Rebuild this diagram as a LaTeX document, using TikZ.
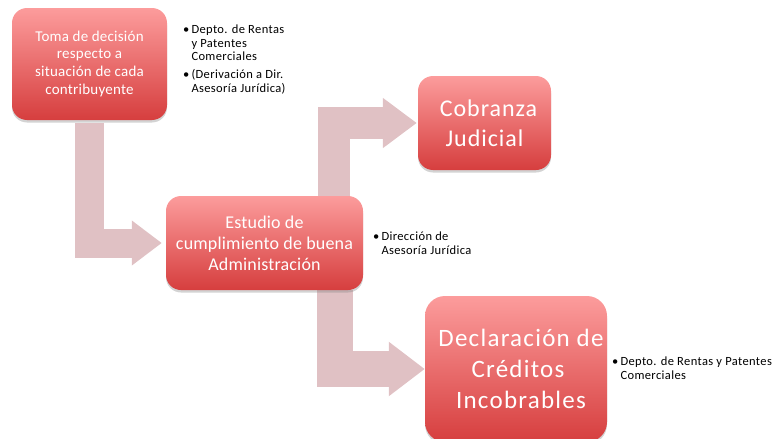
\documentclass[tikz,border=0pt]{standalone}
\usepackage{fontspec}
\setmainfont{Carlito}
\usetikzlibrary{arrows.meta,shadows,calc}
\definecolor{arrowc}{HTML}{E0C1C4}
\definecolor{boxtop}{HTML}{FC9C9C}
\definecolor{boxbot}{HTML}{D63E3E}
\pgfdeclarelayer{bg}
\pgfsetlayers{bg,main}
\tikzset{
  box/.style={rectangle, rounded corners=15pt, top color=boxtop, bottom color=boxbot,
    draw=none, text=white, align=center, inner sep=2pt,
    drop shadow={opacity=0.35, shadow xshift=0pt, shadow yshift=-2.5pt}},
  blockarrow/.style={draw=arrowc, line join=miter, line cap=butt},
  note/.style={anchor=north west, inner sep=0pt, align=left, text=black,
    font=\fontsize{12.5}{14}\selectfont\addfontfeatures{LetterSpace=3}},
}
\begin{document}
\begin{tikzpicture}[x=1pt,y=-1pt]
\useasboundingbox (0,0) rectangle (782,439);
\coordinate (a1x) at (89,0);
\coordinate (a2x) at (333.5,0);
\coordinate (a3x) at (334.5,0);
\node[box, minimum width=155pt, minimum height=112pt, font=\fontsize{15}{18}\selectfont\addfontfeatures{LetterSpace=1.5}] (b1) at (89.5,64)
    {Toma de decisión\\respecto a\\situación de cada\\contribuyente};
\node[box, minimum width=133pt, minimum height=94pt, font=\fontsize{24}{30}\selectfont\addfontfeatures{LetterSpace=4}] (b2) at (484.5,123)
    {\hspace*{8pt}Cobranza\\Judicial};
\node[box, minimum width=197pt, minimum height=94pt, font=\fontsize{18}{21}\selectfont\addfontfeatures{LetterSpace=1}] (b3) at (264.5,243)
    {Estudio de\\cumplimiento de buena\\Administración};
\node[box, rounded corners=20pt, minimum width=182pt, minimum height=146pt, font=\fontsize{25}{31}\selectfont\addfontfeatures{LetterSpace=5}] (b4) at (516,369)
    {\hspace*{10pt}Declaración de\\\hspace*{4pt}Créditos\\\hspace*{10pt}Incobrables};
\begin{pgfonlayer}{bg}
\draw[blockarrow, line width=29pt, -{Triangle[width=43pt,length=30pt]}, shorten <=3pt, shorten >=4pt]
  (b1.south -| a1x) |- (b3.west);
\draw[blockarrow, line width=32pt, -{Triangle[width=48pt,length=34pt]}, shorten >=1pt]
  (b3.north -| a2x) |- (b2.west);
\draw[blockarrow, line width=36pt, -{Triangle[width=52pt,length=36pt]}]
  (b3.south -| a3x) |- (b4.west);
\end{pgfonlayer}
\node[note] (n1) at (183,23) {•\,\begin{tabular}[t]{@{}l@{}}Depto. de Rentas\\y Patentes\\Comerciales\end{tabular}};
\node[note] (n2) at (183,68) {•\,\begin{tabular}[t]{@{}l@{}}(Derivación a Dir.\\Asesoría Jurídica)\end{tabular}};
\node[note] (n3) at (373,230) {•\,\begin{tabular}[t]{@{}l@{}}Dirección de\\Asesoría Jurídica\end{tabular}};
\node[note] (n4) at (612,355) {•\,\begin{tabular}[t]{@{}l@{}}Depto. de Rentas y Patentes\\Comerciales\end{tabular}};
\end{tikzpicture}
\end{document}
